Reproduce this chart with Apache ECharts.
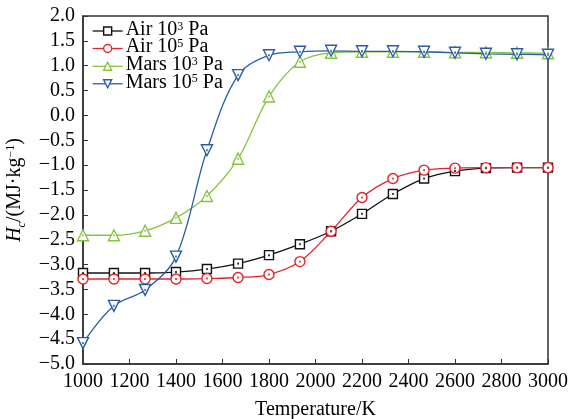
<!DOCTYPE html>
<html><head><meta charset="utf-8">
<script src="https://cdn.jsdelivr.net/npm/echarts@6/dist/echarts.min.js"></script>
<style>html,body{margin:0;padding:0;background:#fff}#c{width:575px;height:419px}</style>
</head><body><div id="c"></div>
<script>
const temps = [1000, 1133, 1267, 1400, 1533, 1667, 1800, 1933, 2067, 2200, 2333, 2467, 2600, 2733, 2867, 3000];
const air3 = [-3.17, -3.17, -3.17, -3.15, -3.09, -2.98, -2.81, -2.59, -2.33, -1.98, -1.58, -1.27, -1.12, -1.06, -1.05, -1.05];
const air5 = [-3.29, -3.29, -3.29, -3.29, -3.28, -3.26, -3.20, -2.94, -2.33, -1.65, -1.27, -1.10, -1.06, -1.05, -1.05, -1.05];
const mars3 = [-2.41, -2.41, -2.32, -2.06, -1.62, -0.87, 0.38, 1.08, 1.26, 1.28, 1.28, 1.28, 1.27, 1.27, 1.26, 1.25];
const mars5 = [-4.58, -3.83, -3.51, -2.84, -0.70, 0.81, 1.21, 1.28, 1.30, 1.29, 1.29, 1.28, 1.26, 1.24, 1.23, 1.22];
const seriesNames = ['Air 10^3 Pa', 'Air 10^5 Pa', 'Mars 10^3 Pa', 'Mars 10^5 Pa'];
const xTicks = [1000, 1200, 1400, 1600, 1800, 2000, 2200, 2400, 2600, 2800, 3000];
const yTicks = [2.0, 1.5, 1.0, 0.5, 0.0, -0.5, -1.0, -1.5, -2.0, -2.5, -3.0, -3.5, -4.0, -4.5, -5.0];

const FONT = 'Liberation Serif';
const FS = 20;
const colors = ['#111111', '#e3232b', '#86c440', '#2a5ca8'];
const symbols = ['rect', 'circle', 'triangle', 'triangle'];
const rotates = [0, 0, 0, 180];
const sizes = [9, 10, 11, 11];
const datasets = [air3, air5, mars3, mars5];
const legendTops = [19.5, 37, 54.8, 72.3];

const pair = arr => temps.map((t, i) => [t, arr[i]]);
const series = [];
datasets.forEach((d, k) => {
  series.push({
    name: seriesNames[k], type: 'line', data: pair(d), smooth: 0.35,
    symbol: symbols[k], symbolRotate: rotates[k], symbolSize: sizes[k],
    showAllSymbol: true,
    lineStyle: {color: colors[k], width: 1.3},
    itemStyle: {color: '#fff', borderColor: colors[k], borderWidth: 1.4},
    z: 2 + k
  });
});
datasets.forEach((d, k) => {
  series.push({
    name: 'dot' + k, type: 'scatter', data: pair(d), symbol: 'rect', symbolSize: 2,
    itemStyle: {color: colors[k]}, silent: true, z: 10
  });
});

const legends = seriesNames.map((n, k) => ({
  data: [{name: n, itemStyle: {color: '#fff', borderColor: colors[k], borderWidth: 1.4}, lineStyle: {color: colors[k], width: 1.3}}],
  orient: 'vertical', left: 92, top: legendTops[k], itemWidth: 30, itemHeight: 10, itemGap: 0, padding: 0,
  formatter: name => {
    const m = name.match(/^(.*)\^(\d)(.*)$/);
    return '{t|' + m[1] + '}{s|' + m[2] + '}{t|' + m[3] + '}';
  },
  textStyle: {
    fontFamily: FONT, color: '#000', fontSize: FS, padding: [0, 0, 0, -2], lineHeight: 17,
    rich: {
      t: {fontFamily: FONT, fontSize: FS, color: '#000', lineHeight: 17, verticalAlign: 'bottom'},
      s: {fontFamily: FONT, fontSize: 12, color: '#000', lineHeight: 10, verticalAlign: 'bottom', padding: [0, 0, 7, 0]}
    }
  }
}));

const chart = echarts.init(document.getElementById('c'), null, {renderer: 'canvas'});
chart.setOption({
  animation: false,
  backgroundColor: '#fff',
  textStyle: {fontFamily: FONT, color: '#000'},
  grid: {left: 83, right: 27, top: 16, bottom: 55, outerBoundsMode: 'none', containLabel: false,
    show: true, borderColor: '#333', borderWidth: 1.5, backgroundColor: 'transparent'},
  legend: legends,
  xAxis: {
    type: 'value', min: 1000, max: 3000, interval: 200,
    name: 'Temperature/K', nameLocation: 'middle', nameGap: 36,
    nameTextStyle: {fontFamily: FONT, fontSize: FS, color: '#000'},
    axisLine: {onZero: false, lineStyle: {color: '#333', width: 1.5}},
    axisTick: {inside: true, length: 5, lineStyle: {color: '#333'}},
    axisLabel: {fontFamily: FONT, fontSize: FS, color: '#000', margin: 8, formatter: v => String(v)},
    splitLine: {show: false}
  },
  yAxis: {
    type: 'value', min: -5, max: 2, interval: 0.5,
    name: '{i|H}{sub|c}{t|/(MJ·kg}{sup|−1}{t|)}', nameLocation: 'middle', nameGap: 50, nameRotate: 90,
    nameTextStyle: {
      fontFamily: FONT, fontSize: FS, color: '#000',
      rich: {
        i: {fontFamily: FONT, fontSize: FS, fontStyle: 'italic', color: '#000', verticalAlign: 'bottom', lineHeight: 20},
        t: {fontFamily: FONT, fontSize: FS, color: '#000', verticalAlign: 'bottom', lineHeight: 20},
        sub: {fontFamily: FONT, fontSize: 12, fontStyle: 'italic', color: '#000', verticalAlign: 'bottom', lineHeight: 20, padding: [0, 0, -3, 0]},
        sup: {fontFamily: FONT, fontSize: 12, color: '#000', verticalAlign: 'bottom', lineHeight: 20, padding: [0, 0, 8, 0]}
      }
    },
    axisLine: {onZero: false, lineStyle: {color: '#333', width: 1.5}},
    axisTick: {inside: true, length: 5, lineStyle: {color: '#333'}},
    axisLabel: {fontFamily: FONT, fontSize: FS, color: '#000', margin: 8,
      formatter: v => v.toFixed(1).replace('-', '−')},
    splitLine: {show: false}
  },
  series: series
});
</script></body></html>
